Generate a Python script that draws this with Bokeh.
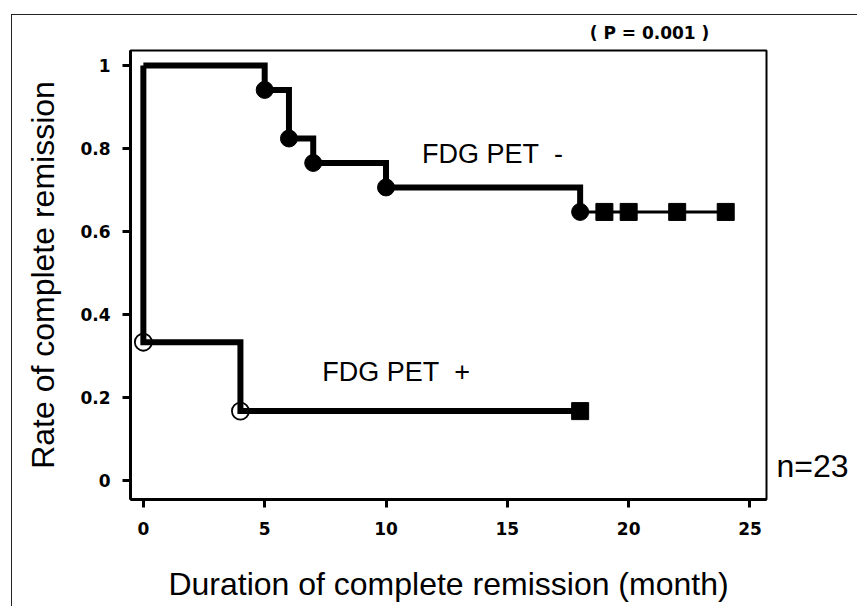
from bokeh.plotting import figure
from bokeh.models import Range1d, FixedTicker, Label, LinearAxis
from bokeh.embed import file_html
from bokeh.resources import INLINE

# ---- data ----
neg_times = [0, 5, 6, 7, 10, 18]
neg_rates = [1.0, 0.941, 0.824, 0.765, 0.706, 0.647]
neg_event_times = [5, 6, 7, 10, 18]
neg_event_rates = [0.941, 0.824, 0.765, 0.706, 0.647]
neg_censor_times = [19, 20, 22, 24]
neg_censor_rates = [0.647, 0.647, 0.647, 0.647]

pos_times = [0, 0, 4, 18]
pos_rates = [1.0, 0.333, 0.167, 0.167]
pos_event_times = [0, 4]
pos_event_rates = [0.333, 0.167]
pos_censor_times = [18]
pos_censor_rates = [0.167]

x_ticks = [0, 5, 10, 15, 20, 25]
y_ticks = [0, 0.2, 0.4, 0.6, 0.8, 1]
y_tick_labels = ["0", "0.2", "0.4", "0.6", "0.8", "1"]

label_neg = "FDG PET\u00a0\u00a0-"
label_pos = "FDG PET\u00a0\u00a0+"
p_text = "( P = 0.001 )"
p_text_x = 20.86
n_text = "n=23"
n_text_y = 0.034
x_title = "Duration of complete remission (month)"
y_title = "Rate of complete remission"

FONT = "Liberation Sans"
TICKFONT = "DejaVu Sans"

p = figure(width=846, height=592, output_backend="svg", toolbar_location=None,
           x_range=Range1d(-0.53, 25.68), y_range=Range1d(-0.046, 1.036),
           min_border_left=118, min_border_right=92, min_border_top=35, min_border_bottom=108,
           background_fill_color="white", border_fill_color="white")
p.margin = (14, 0, 0, 11)
p.styles = {"border-left": "1px solid #222", "border-top": "1px solid #222"}

p.grid.visible = False
p.outline_line_color = "black"
p.outline_line_width = 2

for ax in (p.xaxis[0], p.yaxis[0]):
    ax.axis_line_width = 3
    ax.axis_line_color = "black"
    ax.major_tick_out = 8
    ax.major_tick_in = 0
    ax.major_tick_line_width = 3
    ax.minor_tick_line_color = None
    ax.major_label_text_font = TICKFONT
    ax.major_label_text_font_style = "bold"
    ax.major_label_text_font_size = "17px"
    ax.major_label_text_color = "black"
    ax.axis_label_text_font = FONT
    ax.axis_label_text_font_style = "normal"
    ax.axis_label_text_font_size = "32px"
    ax.axis_label_text_color = "black"

p.xaxis.ticker = FixedTicker(ticks=x_ticks)
p.yaxis.ticker = FixedTicker(ticks=y_ticks)
p.yaxis.major_label_overrides = {t: s for t, s in zip(y_ticks, y_tick_labels)}
p.xaxis.axis_label = x_title
p.yaxis.axis_label = y_title
p.xaxis.major_label_standoff = 14
p.yaxis.major_label_standoff = 12
p.xaxis.axis_label_standoff = 28
p.yaxis.axis_label_standoff = 16

# annotation texts placed outside the frame via label-only axes
top_ax = LinearAxis(ticker=FixedTicker(ticks=[p_text_x]),
                    major_label_overrides={p_text_x: p_text},
                    axis_line_color=None, major_tick_line_color=None,
                    minor_tick_line_color=None, major_label_standoff=2,
                    major_label_text_font=TICKFONT, major_label_text_font_style="bold",
                    major_label_text_font_size="17px", major_label_text_color="black")
p.add_layout(top_ax, "above")
right_ax = LinearAxis(ticker=FixedTicker(ticks=[n_text_y]),
                      major_label_overrides={n_text_y: n_text},
                      axis_line_color=None, major_tick_line_color=None,
                      minor_tick_line_color=None, major_label_standoff=4,
                      major_label_text_font=FONT, major_label_text_font_size="32px",
                      major_label_text_color="black")
p.add_layout(right_ax, "right")

# FDG PET - curve
p.step(neg_times, neg_rates, mode="after", line_color="black", line_width=6, line_join="miter")
p.line([neg_times[-1], neg_censor_times[-1]], [neg_rates[-1], neg_rates[-1]],
       line_color="black", line_width=3)
p.scatter(neg_event_times, neg_event_rates, marker="circle", size=17,
          fill_color="black", line_color="black")
p.scatter(neg_censor_times, neg_censor_rates, marker="square", size=17,
          fill_color="black", line_color="black")

# FDG PET + curve
p.step(pos_times, pos_rates, mode="after", line_color="black", line_width=6, line_join="miter")
p.scatter(pos_event_times, pos_event_rates, marker="circle", size=17,
          fill_color=None, line_color="black", line_width=1.8)
p.scatter(pos_censor_times, pos_censor_rates, marker="square", size=17,
          fill_color="black", line_color="black")

p.add_layout(Label(x=11.48, y=0.786, text=label_neg, text_font=FONT, text_font_size="27px",
                   text_baseline="middle", text_align="left", text_color="black"))
p.add_layout(Label(x=7.37, y=0.262, text=label_pos, text_font=FONT, text_font_size="27px",
                   text_baseline="middle", text_align="left", text_color="black"))

open("out.html", "w").write(file_html(p, INLINE))
